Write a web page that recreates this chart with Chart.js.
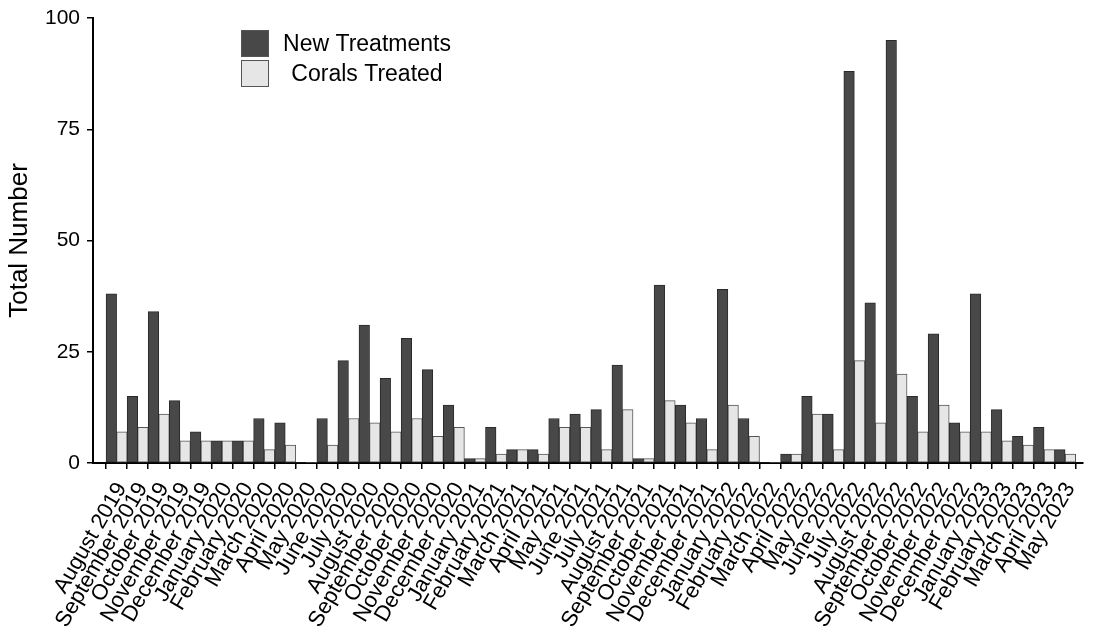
<!DOCTYPE html>
<html>
<head>
<meta charset="utf-8">
<title>New Treatments and Corals Treated</title>
<script src="https://cdn.jsdelivr.net/npm/chart.js@4.4.1/dist/chart.umd.min.js"></script>
<style>
  html, body { margin: 0; padding: 0; background: #fff; }
  canvas { display: block; }
</style>
</head>
<body>
<canvas id="myChart" width="1097" height="636"></canvas>
<script>
const months = [
    'August 2019', 'September 2019', 'October 2019', 'November 2019', 'December 2019',
    'January 2020', 'February 2020', 'March 2020', 'April 2020', 'May 2020', 'June 2020',
    'July 2020', 'August 2020', 'September 2020', 'October 2020', 'November 2020', 'December 2020',
    'January 2021', 'February 2021', 'March 2021', 'April 2021', 'May 2021', 'June 2021',
    'July 2021', 'August 2021', 'September 2021', 'October 2021', 'November 2021', 'December 2021',
    'January 2022', 'February 2022', 'March 2022', 'April 2022', 'May 2022', 'June 2022',
    'July 2022', 'August 2022', 'September 2022', 'October 2022', 'November 2022', 'December 2022',
    'January 2023', 'February 2023', 'March 2023', 'April 2023', 'May 2023'
];

const newTreatments = [
    38, 15, 34, 14, 7,
    5, 5, 10, 9, 0, 10, 23, 31, 19, 28, 21, 13,
    1, 8, 3, 3, 10, 11, 12, 22, 1, 40, 13, 10,
    39, 10, 0, 2, 15, 11, 88, 36, 95, 15, 29, 9,
    38, 12, 6, 8, 3
];

const coralsTreated = [
    7, 8, 11, 5, 5,
    5, 5, 3, 4, 0, 4, 10, 9, 7, 10, 6, 8,
    1, 2, 3, 2, 8, 8, 3, 12, 1, 14, 9, 3,
    13, 6, 0, 2, 11, 3, 23, 9, 20, 7, 13, 7,
    7, 5, 4, 3, 2
];

const yTicks = [0, 25, 50, 75, 100];

const FONT = '"Liberation Sans", Arial, sans-serif';

// legend sits inside the plot, top left, text centred next to the boxes
const cornerLegend = {
    id: 'cornerLegend',
    afterDraw(chart) {
        const ctx = chart.ctx;
        ctx.save();
        chart.data.datasets.forEach((ds, i) => {
            const y = 30 + i * 30;
            ctx.fillStyle = ds.backgroundColor;
            ctx.fillRect(241, y, 28, 27);
            ctx.strokeStyle = '#555';
            ctx.lineWidth = 1;
            ctx.strokeRect(241.5, y + 0.5, 27, 26);
            ctx.fillStyle = '#000';
            ctx.font = '23px ' + FONT;
            ctx.textAlign = 'center';
            ctx.textBaseline = 'middle';
            ctx.fillText(ds.label, 367, y + 15);
        });
        ctx.restore();
    }
};

const toPoints = arr => arr.map((v, i) => ({ x: i, y: v }));

const data = {
    datasets: [{
        label: 'New Treatments',
        data: toPoints(newTreatments),
        backgroundColor: '#484848',
        borderColor: '#2a2a2a',
        borderWidth: c => (c.raw && c.raw.y ? 1 : 0),
        borderSkipped: false,
        categoryPercentage: 1,
        barPercentage: 1
    }, {
        label: 'Corals Treated',
        data: toPoints(coralsTreated),
        backgroundColor: '#e6e6e6',
        borderColor: '#555555',
        borderWidth: c => (c.raw && c.raw.y ? 1 : 0),
        borderSkipped: false,
        categoryPercentage: 1,
        barPercentage: 1
    }]
};

const config = {
    type: 'bar',
    data,
    plugins: [cornerLegend],
    options: {
        responsive: false,
        animation: false,
        layout: { padding: { top: 18, right: 0, bottom: 0, left: 0 } },
        plugins: {
            legend: { display: false },
            tooltip: { enabled: false }
        },
        scales: {
            x: {
                type: 'linear',
                min: -1.12,
                max: 45.84,
                offset: false,
                border: { display: true, color: '#000', width: 2 },
                grid: { drawOnChartArea: false, drawTicks: true, tickLength: 6, color: '#000', lineWidth: 1.5 },
                ticks: {
                    stepSize: 1,
                    autoSkip: false,
                    includeBounds: false,
                    minRotation: 60,
                    maxRotation: 60,
                    padding: 9,
                    labelOffset: 5,
                    color: '#000',
                    font: { family: FONT, size: 22 },
                    callback: v => months[v]
                },
                afterBuildTicks: s => {
                    s.ticks = s.ticks.filter(t => t.value >= 0 && t.value < months.length);
                },
                afterFit: s => { s.height = 173; }
            },
            y: {
                min: 0,
                max: 100,
                border: { display: true, color: '#000', width: 2 },
                grid: { drawOnChartArea: false, drawTicks: true, tickLength: 6, color: '#000', lineWidth: 1.5 },
                ticks: {
                    stepSize: 25,
                    padding: 7,
                    color: '#000',
                    font: { family: FONT, size: 21, lineHeight: 1 }
                },
                afterBuildTicks: s => {
                    s.ticks = yTicks.map(v => ({ value: v }));
                },
                title: {
                    display: true,
                    text: 'Total Number',
                    color: '#000',
                    font: { family: FONT, size: 26 },
                    padding: { top: 4, bottom: 0 }
                },
                afterFit: s => { s.width = 93; }
            }
        }
    }
};

var myChart = new Chart(document.getElementById('myChart'), config);
</script>
</body>
</html>
